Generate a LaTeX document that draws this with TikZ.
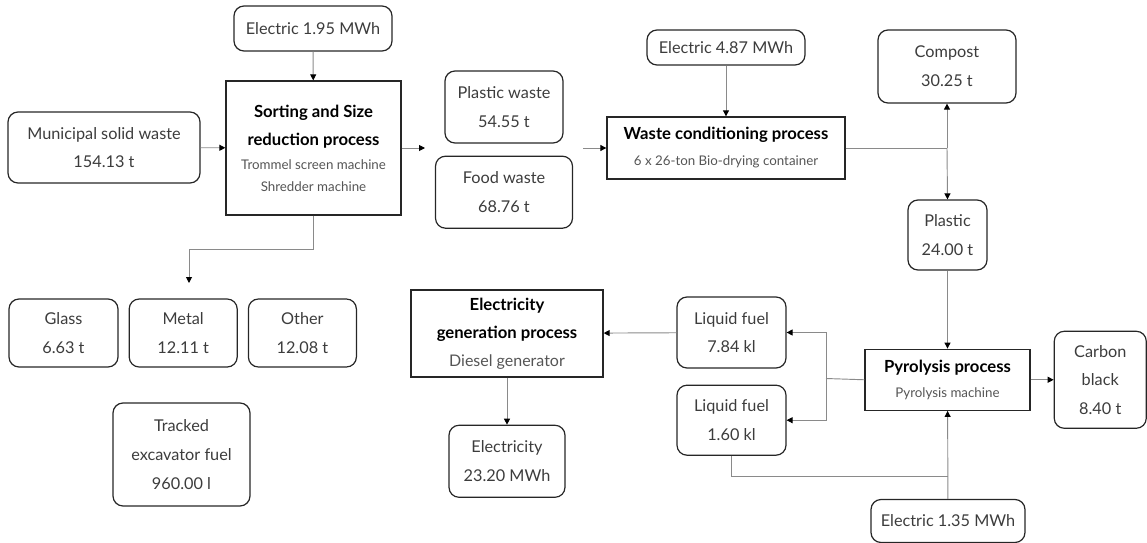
\documentclass[tikz,border=0pt]{standalone}
\usepackage{fontspec}
\setmainfont{Lato}
\usepackage{xcolor}
\usetikzlibrary{arrows.meta, positioning, calc}

\definecolor{boxtext}{HTML}{3C3C3C}
\definecolor{subtext}{HTML}{555555}
\definecolor{wire}{HTML}{8A8A8A}

\newcommand{\subfont}{\fontsize{10}{16.5}\selectfont\mdseries\color{subtext}}

\begin{document}
\begin{tikzpicture}[x=0.75pt, y=-0.75pt]
    % Styles
    \tikzstyle{data} = [rectangle, rounded corners=7.5pt, draw=black!85, line width=0.9pt, align=center, text=boxtext, inner sep=2pt, font=\fontsize{12.2}{21.5}\selectfont]
    \tikzstyle{process} = [rectangle, draw=black!85, line width=1pt, align=center, inner sep=2pt, font=\fontsize{12.5}{16.5}\selectfont\bfseries]
    \tikzstyle{line} = [draw=wire, line width=0.7pt]
    \tikzstyle{arrow} = [line, -{Triangle[length=4.5pt, width=4.5pt, color=black]}]

    \useasboundingbox (0,0) rectangle (1147,543);

    % Sorting stage
    \node [data, minimum width=118.5pt, minimum height=33.75pt] (elecA) at (313,28.5) {Electric 1.95 MWh};
    \node [process, minimum width=131.25pt, minimum height=100.5pt] (sort) at (313.5,148) {Sorting and Size\\[4.5pt] reduction process\\[1.5pt] \subfont Trommel screen machine\\ \subfont Shredder machine};
    \node [data, minimum width=144pt, minimum height=53.25pt] (msw) at (104,147.5) {Municipal solid waste\\ 154.13 t};

    % Sorted streams
    \node [data, minimum width=88.5pt, minimum height=54pt] (plasticwaste) at (504,107) {Plastic waste\\ 54.55 t};
    \node [data, minimum width=102.75pt, minimum height=54pt, below=9pt of plasticwaste] (foodwaste) {Food waste\\ 68.76 t};

    \node [data, minimum width=81.75pt, minimum height=51pt] (glass) at (63.5,333) {Glass\\ 6.63 t};
    \node [data, minimum width=81pt, minimum height=51pt, right=7.5pt of glass] (metal) {Metal\\ 12.11 t};
    \node [data, minimum width=81pt, minimum height=51pt, right=7.5pt of metal] (other) {Other\\ 12.08 t};
    \node [data, minimum width=102.75pt, minimum height=77.25pt] (excavator) at (181.5,454.5) {Tracked\\ excavator fuel\\ 960.00 l};

    % Waste conditioning
    \node [data, minimum width=118.5pt, minimum height=26.25pt] (elecB) at (726,47.5) {Electric 4.87 MWh};
    \node [process, minimum width=178.5pt, minimum height=46.5pt] (cond) at (726,148) {Waste conditioning process\\[3pt] \subfont 6 x 26-ton Bio-drying container};
    \node [data, minimum width=103.5pt, minimum height=54.75pt] (compost) at (947,66.5) {Compost\\ 30.25 t};
    \node [data, minimum width=59.25pt, minimum height=52.5pt] (plastic) at (947.5,235) {Plastic\\ 24.00 t};

    % Pyrolysis
    \node [process, minimum width=123.75pt, minimum height=45.75pt, below=58.5pt of plastic] (pyro) {Pyrolysis process\\[2pt] \subfont Pyrolysis machine};
    \node [data, minimum width=69pt, minimum height=72.75pt, right=17.25pt of pyro] (carbon) {Carbon\\ black\\ 8.40 t};
    \node [data, minimum width=115.5pt, minimum height=32.25pt] (elecC) at (948,521) {Electric 1.35 MWh};
    \node [data, minimum width=81.75pt, minimum height=53.25pt] (fuelA) at (731.5,332.5) {Liquid fuel\\ 7.84 kl};
    \node [data, minimum width=81.75pt, minimum height=52.5pt, below=12pt of fuelA] (fuelB) {Liquid fuel\\ 1.60 kl};

    % Electricity generation
    \node [process, minimum width=144pt, minimum height=65.25pt] (gen) at (507,333.5) {Electricity\\[4.5pt] generation process\\[4.5pt] \fontsize{12}{16.5}\selectfont\mdseries\color{subtext}Diesel generator};
    \node [data, minimum width=87pt, minimum height=54pt, below=35.25pt of gen] (electricity) {Electricity\\ 23.20 MWh};

    % Branch points
    \coordinate (sortout) at (425,148);
    \coordinate (condin) at (583,148);
    \coordinate (turn) at (189,249);
    \coordinate (drop) at (189,283);
    \coordinate (split) at (947,148);
    \coordinate (fork) at (826,378.5);
    \coordinate (join) at (947.5,476);

    % Connections
    \draw [arrow] (elecA) -- (sort);
    \draw [arrow] (msw) -- (sort);
    \draw [arrow] (sort) -- (sortout);
    \draw [arrow] (sort.south) |- (turn) -- (drop);
    \draw [arrow] (condin) -- (cond);
    \draw [arrow] (elecB) -- (cond);
    \draw [line] (cond.east) -- (split);
    \draw [arrow] (split) -- (compost.south);
    \draw [arrow] (split) -- (plastic.north);
    \draw [arrow] (plastic) -- (pyro);
    \draw [arrow] (pyro) -- (carbon);
    \draw [line] (pyro.west) -- (fork);
    \draw [arrow] (fork) |- (fuelA.east);
    \draw [arrow] (fork) |- (fuelB.east);
    \draw [arrow] (fuelA) -- (gen);
    \draw [arrow] (gen) -- (electricity);
    \draw [line] (fuelB.south) |- (join);
    \draw [arrow] (elecC) -- (pyro);

\end{tikzpicture}
\end{document}
